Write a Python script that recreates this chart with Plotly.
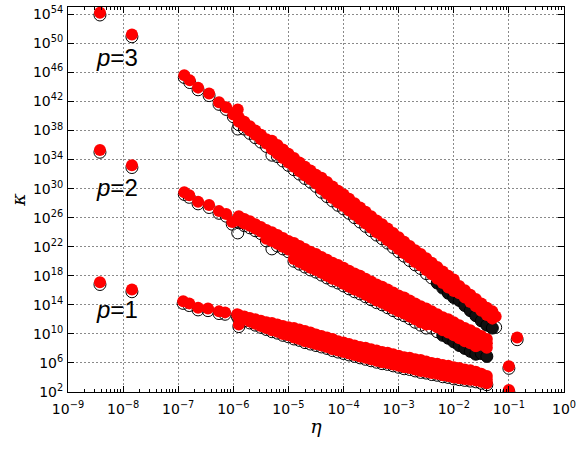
import numpy as np
import plotly.graph_objects as go

# ---------------- data (log10 values) ----------------
# dense part of the three bands: shared log10(eta) grid
eta_dense = [-5.9, -5.8, -5.7, -5.6, -5.5, -5.4, -5.3, -5.2, -5.1, -5.0,
             -4.9, -4.8, -4.7, -4.6, -4.5, -4.4, -4.3, -4.2, -4.1, -4.0,
             -3.9, -3.8, -3.7, -3.6, -3.5, -3.4, -3.3, -3.2, -3.1, -3.0,
             -2.9, -2.8, -2.7, -2.6, -2.5, -2.4, -2.3, -2.2, -2.1, -2.0,
             -1.9, -1.8, -1.7, -1.6, -1.5, -1.4, -1.3]

# p = 3 : log10(kappa)
p3_red_hi = [39.8, 39.2, 38.6, 38.0, 37.4, 36.8, 36.6, 36.0, 35.4, 34.8,
             34.2, 33.6, 33.0, 32.5, 31.9, 31.5, 30.9, 30.3, 29.7, 29.2,
             28.6, 28.0, 27.4, 26.8, 26.2, 25.6, 25.1, 24.5, 23.9, 23.3,
             22.7, 22.1, 21.5, 21.0, 20.4, 19.8, 19.2, 18.6, 18.0, 17.5,
             16.6, 16.0, 15.4, 14.8, 14.2, 13.6, 13.1]
p3_red_mid = [39.5, 38.9, 38.3, 37.7, 37.1, 36.5, 36.0, 35.4, 34.8, 34.2,
              33.6, 33.0, 32.4, 31.9, 31.3, 30.7, 30.1, 29.5, 28.9, 28.4,
              27.8, 27.2, 26.6, 26.0, 25.4, 24.8, 24.3, 23.7, 23.1, 22.5,
              21.9, 21.3, 20.7, 20.2, 19.6, 19.0, 18.4, 17.8, 17.2, 16.7,
              16.1, 15.5, 14.9, 14.3, 13.7, 13.1, 12.6]
p3_red_lo = [39.2, 38.6, 38.0, 37.4, 36.8, 36.2, 35.4, 34.8, 34.2, 33.6,
             33.0, 32.4, 31.8, 31.3, 30.7, 29.9, 29.3, 28.7, 28.1, 27.6,
             27.0, 26.4, 25.8, 25.2, 24.6, 24.0, 23.5, 22.9, 22.3, 21.7,
             21.1, 20.5, 19.9, 19.4, 18.8, 18.2, 17.6, 17.0, 16.4, 15.9,
             15.6, 15.0, 14.4, 13.8, 13.2, 12.6, 12.1]
p3_black = [38.8, 38.2, 37.6, 37.0, 36.4, 35.8, 34.6, 34.4, 33.8, 33.2,
            32.6, 32.0, 31.4, 30.9, 30.3, 29.5, 28.9, 28.3, 27.7, 27.2,
            26.6, 26.0, 25.4, 24.8, 24.2, 23.6, 23.1, 22.5, 21.9, 21.3,
            20.7, 20.1, 19.5, 19.0, 18.3, 17.7, 17.0, 16.3, 15.6, 15.0,
            14.6, 13.9, 13.2, 12.5, 11.8, 11.2, 10.8]

# p = 2  (None = no point at that eta)
p2_red_hi = [26.2, 25.8, 25.5, 25.1, 24.7, 24.3, 24.0, 23.6, 23.2, 22.8,
             22.5, 22.1, 21.7, 21.3, 21.0, 20.6, 20.2, 19.8, 19.5, 19.1,
             18.7, 18.3, 18.0, 17.6, 17.2, 16.8, 16.5, 16.1, 15.7, 15.3,
             15.0, 14.6, 14.2, 13.8, 13.5, 13.1, 12.7, 12.3, 12.0, 11.6,
             11.2, 10.8, 10.5, 10.1, 9.7, 9.3, None]
p2_red_mid = [25.9, 25.5, 25.2, 24.8, 24.4, 23.7, 23.4, 23.0, 22.6, 22.2,
              21.4, 21.0, 20.6, 20.2, 19.9, 19.5, 19.1, 18.7, 18.4, 18.0,
              17.6, 17.2, 16.9, 16.5, 16.1, 15.7, 15.4, 15.0, 14.6, 14.2,
              13.9, 13.5, 13.1, 12.7, 12.4, 12.2, 11.8, 11.4, 11.1, 10.7,
              10.3, 9.9, 9.6, 9.2, 9.1, 8.7, None]
p2_red_lo = [25.6, 25.2, 24.9, 24.5, 24.1, 23.1, 22.8, 22.4, 22.0, 21.6,
             20.3, 19.9, 19.5, 19.1, 18.8, 18.4, 18.0, 17.6, 17.3, 16.9,
             16.5, 16.1, 15.8, 15.4, 15.0, 14.6, 14.3, 13.9, 13.5, 13.1,
             12.8, 12.4, 12.0, 11.6, 11.3, 11.3, 10.9, 10.5, 10.2, 9.8,
             9.4, 9.0, 8.7, 8.3, 8.5, 8.1, None]
p2_black = [25.3, 24.9, 24.6, 24.2, 23.8, 22.8, 21.7, 22.1, 21.7, 21.3,
            20.0, 19.6, 19.2, 18.8, 18.5, 18.1, 17.7, 17.3, 17.0, 16.6,
            16.2, 15.8, 15.5, 15.1, 14.7, 14.3, 14.0, 13.6, 13.2, 12.8,
            12.5, 12.1, 11.6, 11.2, 10.8, 10.8, 10.3, 9.8, 9.4, 8.9,
            8.4, 8.0, 7.6, 7.2, 7.3, 6.9, None]

# p = 1
p1_red_hi = [12.6, 12.4, 12.2, 12.0, 11.8, 11.6, 11.5, 11.3, 11.1, 10.9,
             10.8, 10.6, 10.4, 10.2, 9.9, 9.7, 9.5, 9.3, 9.0, 8.8,
             8.6, 8.4, 8.2, 8.1, 7.9, 7.7, 7.5, 7.4, 7.2, 7.0,
             6.8, 6.7, 6.5, 6.4, 6.2, 6.0, 5.9, 5.7, 5.6, 5.4,
             5.3, 5.1, 5.0, 4.8, 4.5, 4.2, None]
p1_red_mid = [12.4, 12.2, 12.0, 11.7, 11.5, 11.2, 11.0, 10.8, 10.6, 10.4,
              10.2, 10.0, 9.7, 9.5, 9.3, 9.1, 8.9, 8.6, 8.4, 8.2,
              8.0, 7.8, 7.6, 7.4, 7.2, 7.0, 6.8, 6.7, 6.5, 6.3,
              6.1, 6.0, 5.8, 5.7, 5.5, 5.3, 5.2, 5.0, 4.9, 4.7,
              4.6, 4.5, 4.4, 4.2, 4.0, 3.7, None]
p1_red_lo = [12.2, 12.0, 11.7, 11.4, 11.1, 10.8, 10.5, 10.3, 10.0, 9.8,
             9.5, 9.3, 9.0, 8.8, 8.6, 8.4, 8.2, 7.9, 7.7, 7.5,
             7.3, 7.1, 6.9, 6.7, 6.5, 6.3, 6.1, 6.0, 5.8, 5.6,
             5.4, 5.3, 5.1, 4.9, 4.8, 4.6, 4.5, 4.3, 4.2, 4.0,
             3.9, 3.8, 3.7, 3.6, 3.4, 3.2, None]
p1_black = [12.0, 11.8, 11.5, 11.2, 10.9, 10.6, 10.3, 10.1, 9.8, 9.6,
            9.3, 9.1, 8.8, 8.6, 8.4, 8.2, 8.0, 7.7, 7.5, 7.3,
            7.1, 6.9, 6.7, 6.5, 6.3, 6.1, 5.9, 5.8, 5.6, 5.4,
            5.2, 5.1, 4.9, 4.7, 4.6, 4.4, 4.3, 4.1, 4.0, 3.8,
            3.7, 3.6, 3.5, 3.4, 3.2, 3.0, None]

# isolated points (log10 eta, log10 kappa red / black)
p3_sp_eta = [-8.42, -7.84, -6.89, -6.79, -6.64, -6.44, -6.26, -6.13, -6.00, -5.92, -1.24, -0.85]
p3_sp_red = [54.2, 51.2, 45.6, 44.9, 43.9, 43.1, 41.9, 41.2, 40.2, 40.9, 12.4, 9.5]
p3_sp_blk = [53.9, 50.9, 45.3, 44.6, 43.6, 42.8, 41.6, 40.9, 39.9, 38.2, 10.9, 9.2]

p2_sp_eta = [-8.42, -7.84, -6.89, -6.80, -6.64, -6.44, -6.26, -6.13, -6.02, -5.92, -1.0]
p2_sp_red = [35.3, 33.2, 29.5, 29.1, 28.2, 27.75, 26.9, 26.5, 25.4, 25.8, 5.56]
p2_sp_blk = [35.0, 32.9, 29.2, 28.8, 27.9, 27.4, 26.6, 26.2, 25.1, 23.9, 5.26]

p1_sp_eta = [-8.42, -7.84, -6.91, -6.80, -6.64, -6.46, -6.26, -6.15, -5.93, -5.90, -1.0]
p1_sp_red = [17.1, 16.1, 14.5, 14.2, 13.6, 13.5, 13.1, 12.96, 12.7, 11.3, 2.27]
p1_sp_blk = [16.8, 15.8, 14.2, 13.9, 13.3, 13.2, 12.8, 12.7, 12.4, 11.0, 2.0]

# where the black points pile up so densely that they look solid (log10 eta)
dense_black_from = [-2.3, -2.2, 0.0]

x_tick_exp = [-9, -8, -7, -6, -5, -4, -3, -2, -1, 0]
y_tick_exp = [2, 6, 10, 14, 18, 22, 26, 30, 34, 38, 42, 46, 50, 54]
labels = [("p=3", -8.11, 48.0), ("p=2", -8.11, 30.2), ("p=1", -8.11, 13.4)]

# ---------------- figure ----------------
def pw(a):
    return np.power(10.0, np.array([np.nan if v is None else v for v in a], dtype=float))

fig = go.Figure()

series = [
    (p3_sp_eta, p3_sp_red, p3_sp_blk, p3_red_hi, p3_red_mid, p3_red_lo, p3_black),
    (p2_sp_eta, p2_sp_red, p2_sp_blk, p2_red_hi, p2_red_mid, p2_red_lo, p2_black),
    (p1_sp_eta, p1_sp_red, p1_sp_blk, p1_red_hi, p1_red_mid, p1_red_lo, p1_black),
]

MS = 12
for k, (sp_eta, sp_red, sp_blk, hi, mid, lo, blk) in enumerate(series):
    cut = dense_black_from[k]
    ox = [e for e in eta_dense if e < cut]
    oy = [b for e, b in zip(eta_dense, blk) if e < cut]
    sx = [e for e in eta_dense if e >= cut]
    sy = [b for e, b in zip(eta_dense, blk) if e >= cut]
    fig.add_trace(go.Scatter(
        x=pw(list(sp_eta) + ox), y=pw(list(sp_blk) + oy), mode="markers",
        showlegend=False, hoverinfo="skip",
        marker=dict(symbol="circle-open", size=MS, color="black",
                    line=dict(width=1, color="black"))))
    if sx:
        fig.add_trace(go.Scatter(
            x=pw(sx), y=pw(sy), mode="markers", showlegend=False, hoverinfo="skip",
            marker=dict(symbol="circle", size=MS, color="#111111",
                        line=dict(width=1, color="black"))))

for sp_eta, sp_red, sp_blk, hi, mid, lo, blk in series:
    rx = list(eta_dense) * 3 + list(sp_eta)
    ry = list(lo) + list(mid) + list(hi) + list(sp_red)
    fig.add_trace(go.Scatter(
        x=pw(rx), y=pw(ry), mode="markers", showlegend=False, hoverinfo="skip",
        marker=dict(symbol="circle", size=MS, color="#ff0000",
                    line=dict(width=0))))

def sup(e):
    s = str(e).replace("-", "\u2212")
    return "10<sup>" + s + "</sup>"

axis_common = dict(
    type="log", showline=True, linecolor="black", linewidth=1, mirror="allticks",
    ticks="inside", ticklen=6, tickcolor="black", tickwidth=1,
    showgrid=True, gridcolor="#8a8a8a", gridwidth=1, griddash="2px,2px",
    zeroline=False, tickfont=dict(family="DejaVu Sans", size=14, color="black"),
    tickmode="array", automargin=False,
)

fig.update_layout(
    width=577, height=450,
    margin=dict(l=68, r=13, t=7, b=58),
    paper_bgcolor="white", plot_bgcolor="white",
    xaxis=dict(**axis_common, range=[-9, 0],
               tickvals=[10.0 ** e for e in x_tick_exp],
               ticktext=[sup(e) for e in x_tick_exp],
               minor=dict(ticks="inside", ticklen=3, tickcolor="black",
                          showgrid=False, dtick="D1"),
               ticklabelstandoff=4,
               title=dict(text="<i>η</i>", font=dict(family="DejaVu Serif", size=19,
                                                     color="black"), standoff=3)),
    yaxis=dict(**axis_common, range=[2, 55],
               tickvals=[10.0 ** e for e in y_tick_exp],
               ticktext=[sup(e) for e in y_tick_exp],
               ticklabelstandoff=1,
               title=dict(text="<i>κ</i>", font=dict(family="DejaVu Serif", size=19,
                                                     color="black"), standoff=2)),
)

for txt, lx, ly in labels:
    fig.add_annotation(x=lx, y=ly, xref="x", yref="y", showarrow=False,
                       text="<i>p</i>=" + txt.split("=")[1],
                       font=dict(family="Liberation Sans", size=24, color="black"))

fig.write_html("out.html")
